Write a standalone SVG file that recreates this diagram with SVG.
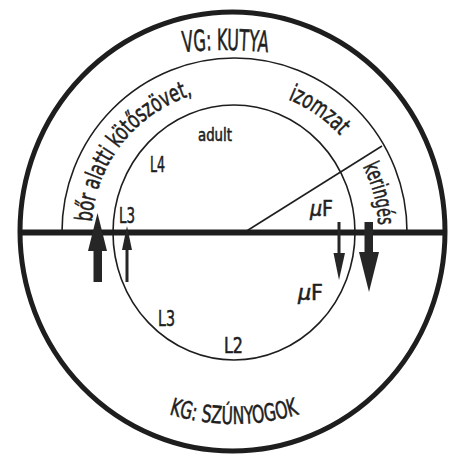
<svg xmlns="http://www.w3.org/2000/svg" width="450" height="456" viewBox="0 0 450 456">
<style>
.t{font-family:'DejaVu Sans Condensed','DejaVu Sans','Liberation Sans',sans-serif;font-stretch:condensed;fill:#1e1e1e;stroke:#1e1e1e;stroke-width:0.55}
.ln{fill:none;stroke:#1e1e1e}
.ar{fill:#262626}
</style>
<defs>
<path id="pVG" d="M 165 54.6 A 400 400 0 0 1 286 54.6"/>
<path id="pKG" d="M 124 394.5 A 220 220 0 0 0 344 394.5"/>
<path id="pBor" d="M 91.85 222.02 A 143 143 0 0 1 195.08 94.54"/>
<path id="pIzom" d="M 288.07 99.41 A 143 143 0 0 1 340.77 136.31"/>
<path id="pKer" d="M 362.8 166.6 A 144 144 0 0 1 378.4 227"/>
</defs>
<rect width="450" height="456" fill="#fff"/>
<g id="structure">
<ellipse class="ln" cx="232.5" cy="231.5" rx="212.5" ry="219.5" stroke-width="5"/>
<path class="ln" d="M 62 232 A 172.5 174 0 0 1 407 232" stroke-width="1.6"/>
<ellipse class="ln" cx="234" cy="232.5" rx="121" ry="127.5" stroke-width="1.6"/>
<line class="ln" x1="245" y1="232" x2="382" y2="146" stroke-width="1.6"/>
<line class="ln" x1="20" y1="232.5" x2="445" y2="232.5" stroke-width="6"/>
</g>
<g id="arrows">
<rect class="ar" x="93.5" y="248" width="8.5" height="34"/>
<polygon class="ar" points="88,251 97.5,213 107,251"/>
<rect class="ar" x="125.5" y="245" width="3" height="37"/>
<polygon class="ar" points="122,250 127,226 132,250"/>
<rect class="ar" x="337.5" y="222" width="3" height="33"/>
<polygon class="ar" points="333.5,253 345,253 339,280"/>
<rect class="ar" x="364.5" y="222" width="8.5" height="32"/>
<polygon class="ar" points="359,252 379,252 369,292"/>
</g>
<g id="labels">
<text class="t" font-size="29"><textPath href="#pVG" startOffset="50%" text-anchor="middle" textLength="85" lengthAdjust="spacingAndGlyphs">VG: KUTYA</textPath></text>
<text class="t" font-size="24"><textPath href="#pKG" startOffset="50%" text-anchor="middle" textLength="132" lengthAdjust="spacingAndGlyphs">KG: SZÚNYOGOK</textPath></text>
<text class="t" font-size="24"><textPath href="#pBor" textLength="172" lengthAdjust="spacingAndGlyphs">bőr alatti kötőszövet,</textPath></text>
<text class="t" font-size="24"><textPath href="#pIzom" textLength="64" lengthAdjust="spacingAndGlyphs">izomzat</textPath></text>
<text class="t" font-size="23"><textPath href="#pKer" textLength="61" lengthAdjust="spacingAndGlyphs">keringés</textPath></text>
<text class="t" x="198" y="141" font-size="17" textLength="34" lengthAdjust="spacingAndGlyphs">adult</text>
<text class="t" x="150" y="172" font-size="21" textLength="15" lengthAdjust="spacingAndGlyphs">L4</text>
<text class="t" x="119" y="223" font-size="21" textLength="16" lengthAdjust="spacingAndGlyphs">L3</text>
<text class="t" x="310" y="216" font-size="21" textLength="23" lengthAdjust="spacingAndGlyphs"><tspan font-style="italic">μ</tspan>F</text>
<text class="t" x="298" y="300" font-size="21" textLength="25" lengthAdjust="spacingAndGlyphs"><tspan font-style="italic">μ</tspan>F</text>
<text class="t" x="158" y="326" font-size="21" textLength="17" lengthAdjust="spacingAndGlyphs">L3</text>
<text class="t" x="224" y="353" font-size="21" textLength="19" lengthAdjust="spacingAndGlyphs">L2</text>
</g>
</svg>
